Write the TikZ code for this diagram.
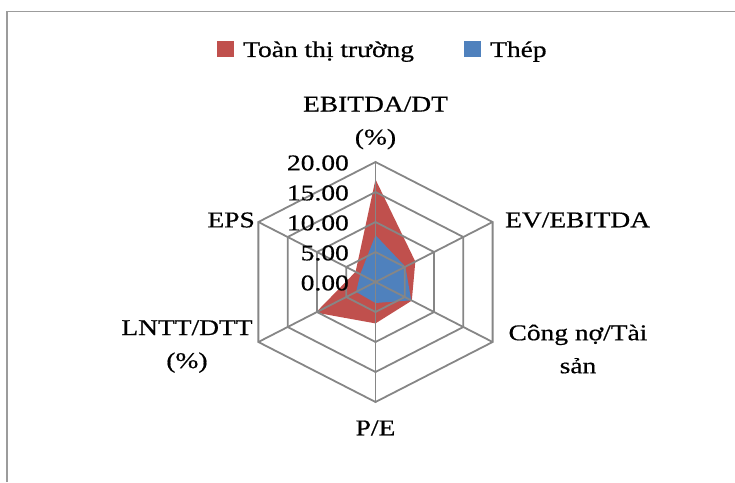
\documentclass[tikz,border=0pt]{standalone}
\usepackage{fontspec}
\setmainfont[FakeStretch=1.22, FakeBold=0.6]{Liberation Serif}
\usepackage{tikz}
\usetikzlibrary{positioning}
\definecolor{Market}{HTML}{C0504D}
\definecolor{Steel}{HTML}{4F81BD}
\definecolor{Grid}{HTML}{868686}
\definecolor{Frame}{HTML}{9C9C9C}

\begin{document}
\begin{tikzpicture}[
  x=1pt, y=1pt,
  font=\fontsize{22.5}{33}\selectfont,
  axislabel/.style={align=center, inner sep=0pt},
  ticklabel/.style={anchor=east, inner sep=0pt},
  gridline/.style={draw=Grid, line width=1.8pt},
  swatch/.style={minimum width=17pt, minimum height=16pt, inner sep=0pt}
]
\useasboundingbox (-375.5,-200) rectangle (359.5,282);
\draw[draw=Frame, line width=1.8pt] (-368.5,-200) -- (-368.5,270.5) -- (359.5,270.5);

% legend
\node[swatch, fill=Market] (keyMarket) at (-150,232.5) {};
\node[anchor=base west, inner sep=0pt] (txtMarket) at (-132.5,225) {Toàn thị trường};
\node[swatch, fill=Steel] (keySteel) at (97,232.5) {};
\node[anchor=base west, inner sep=0pt] (txtSteel) at (114.5,225) {Thép};

\begin{scope}[xscale=1.127]
% series: EBITDA/DT, EV/EBITDA, Cong no, P/E, LNTT/DTT, EPS
\fill[Market] (90:6*17.1) -- (30:6*6.8) -- (-30:6*6.2) -- (-90:6*6.9) -- (-150:6*10.2) -- (150:6*3.4) -- cycle;
\fill[Steel] (90:6*7.8) -- (30:6*5.1) -- (-30:6*6.1) -- (-90:6*3.5) -- (-150:6*3.3) -- (150:6*2.6) -- cycle;
% grid
\foreach \r in {30,60,90,120}
  \draw[gridline] (90:\r) -- (30:\r) -- (-30:\r) -- (-90:\r) -- (-150:\r) -- (150:\r) -- cycle;
\foreach \a in {90,30,-30,-90,-150,150}
  \draw[gridline] (0,0) -- (\a:120);
\end{scope}

% scale
\foreach \v/\r in {0.00/0,5.00/30,10.00/60,15.00/90,20.00/120}
  \node[ticklabel] (tick\r) at (-26.5,\r-1) {\v};

% axis names
\node[axislabel] (ebitda) at (0,159) {EBITDA/DT\\(\%)};
\node[axislabel, anchor=west] (ev) at (129.5,62) {EV/EBITDA};
\node[axislabel] (debt) at (202.5,-67) {Công nợ/Tài\\sản};
\node[axislabel] (pe) at (0,-146) {P/E};
\node[axislabel] (lntt) at (-188.5,-64.5) {LNTT/DTT\\(\%)};
\node[axislabel, anchor=east] (eps) at (-120.5,62) {EPS};
\end{tikzpicture}
\end{document}
